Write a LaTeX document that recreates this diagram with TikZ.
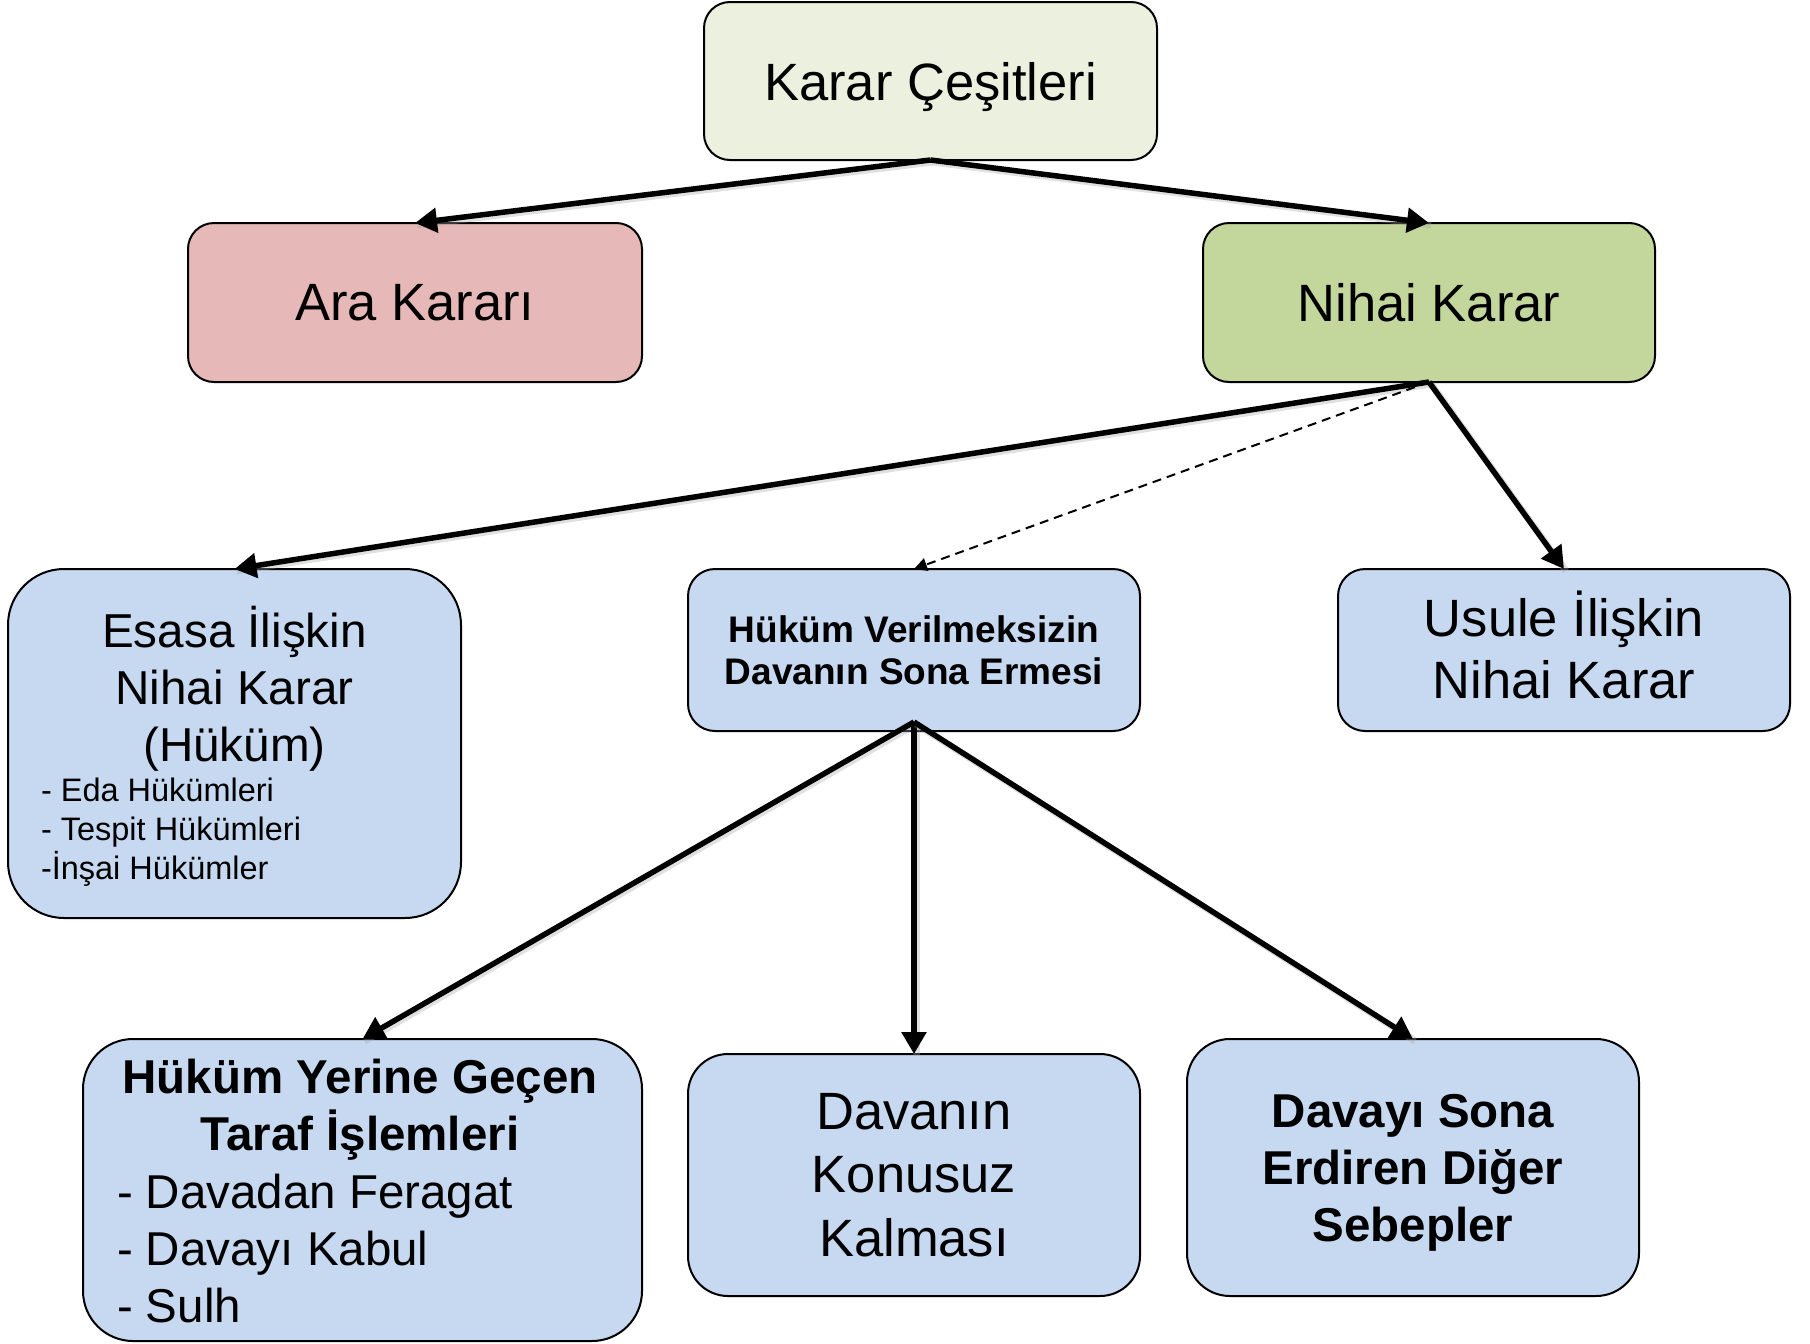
\documentclass[tikz,border=0pt]{standalone}
\usepackage{fontspec}
\setmainfont{Liberation Sans}
\usetikzlibrary{arrows.meta}
\definecolor{cream}{RGB}{235,241,222}
\definecolor{pinkbox}{RGB}{230,185,184}
\definecolor{greenbox}{RGB}{195,214,155}
\definecolor{bluebox}{RGB}{198,217,241}
\tikzset{
  box/.style={draw=black, line width=2pt, inner sep=0pt, outer sep=0pt, align=center},
  big/.style={font=\fontsize{52.5}{63.5}\selectfont},
  mid/.style={font=\fontsize{47.5}{57}\selectfont},
  midb/.style={font=\fontsize{47.5}{57}\selectfont\bfseries},
  conn/.style={line width=5.5pt, -{Triangle[length=22pt,width=24pt]},
    preaction={draw=black!35, opacity=0.35, line width=7pt, transform canvas={shift={(2pt,-2pt)}}, -{}}},
  dashconn/.style={line width=2pt, dash pattern=on 9pt off 6pt, -{Triangle[length=13pt,width=13pt]}},
  txt/.style={inner sep=0pt, outer sep=0pt}
}
\begin{document}
\begin{tikzpicture}[x=1pt,y=-1pt]
\useasboundingbox (0,0) rectangle (1810,1344);
% boxes
\node[box, big, fill=cream, rounded corners=26pt, minimum width=453pt, minimum height=158pt, text depth=0pt] (karar) at (930.5,81) {Karar Çeşitleri};
\node[box, big, fill=pinkbox, rounded corners=26pt, minimum width=454pt, minimum height=159pt] (ara) at (415,302.5) {Ara Kararı};
\node[box, big, fill=greenbox, rounded corners=26pt, minimum width=452pt, minimum height=159pt] (nihai) at (1429,302.5) {Nihai Karar};
\node[box, fill=bluebox, rounded corners=56pt, minimum width=453pt, minimum height=349pt] (esasa) at (234.5,743.5) {};
\node[box, fill=bluebox, rounded corners=27pt, minimum width=452pt, minimum height=162pt,
  font=\fontsize{37}{41.6}\selectfont\bfseries] (hukum) at (914,650) {Hüküm Verilmeksizin\\Davanın Sona Ermesi};
\node[box, fill=bluebox, rounded corners=27pt, minimum width=452pt, minimum height=162pt] (usule) at (1564,650) {};
\node[box, fill=bluebox, rounded corners=50pt, minimum width=559pt, minimum height=302pt] (yerine) at (362.5,1190) {};
\node[box, big, fill=bluebox, rounded corners=40pt, minimum width=452pt, minimum height=242pt] (davanin) at (914,1175) {Davanın\\Konusuz\\Kalması};
\node[box, midb, fill=bluebox, rounded corners=43pt, minimum width=452pt, minimum height=257pt, text depth=0pt] (davayi) at (1413,1167.5) {Davayı Sona\\Erdiren Diğer\\Sebepler};
% texts inside boxes
\node[txt, align=center, font=\fontsize{52.5}{62.5}\selectfont] (usuletext) at (1564,645) {Usule İlişkin\\Nihai Karar};
\node[txt, align=center, font=\fontsize{47.6}{57}\selectfont] (esasatitle) at (234.5,689) {Esasa İlişkin\\Nihai Karar\\(Hüküm)};
\node[txt, align=left, anchor=west, font=\fontsize{32.5}{38.9}\selectfont] (esasalist) at (41,832.5) {- Eda Hükümleri\\- Tespit Hükümleri\\-İnşai Hükümler};
\node[txt, align=center, midb] (yerinetitle) at (360,1109.5) {Hüküm Yerine Geçen\\Taraf İşlemleri};
\node[txt, align=left, anchor=west, mid] (yerinelist) at (117,1249) {- Davadan Feragat\\- Davayı Kabul\\- Sulh};
% connectors
\draw[conn] (karar.south) -- (ara.north);
\draw[conn] (karar.south) -- (nihai.north);
\draw[conn] (nihai.south) -- (esasa.north);
\draw[dashconn] (nihai.south) -- (hukum.north);
\draw[conn] (nihai.south) -- (usule.north);
\coordinate (hb) at ([yshift=9pt]hukum.south);
\draw[conn] (hb) -- (yerine.north);
\draw[conn] (hb) -- (davanin.north);
\draw[conn] (hb) -- (davayi.north);
\end{tikzpicture}
\end{document}
